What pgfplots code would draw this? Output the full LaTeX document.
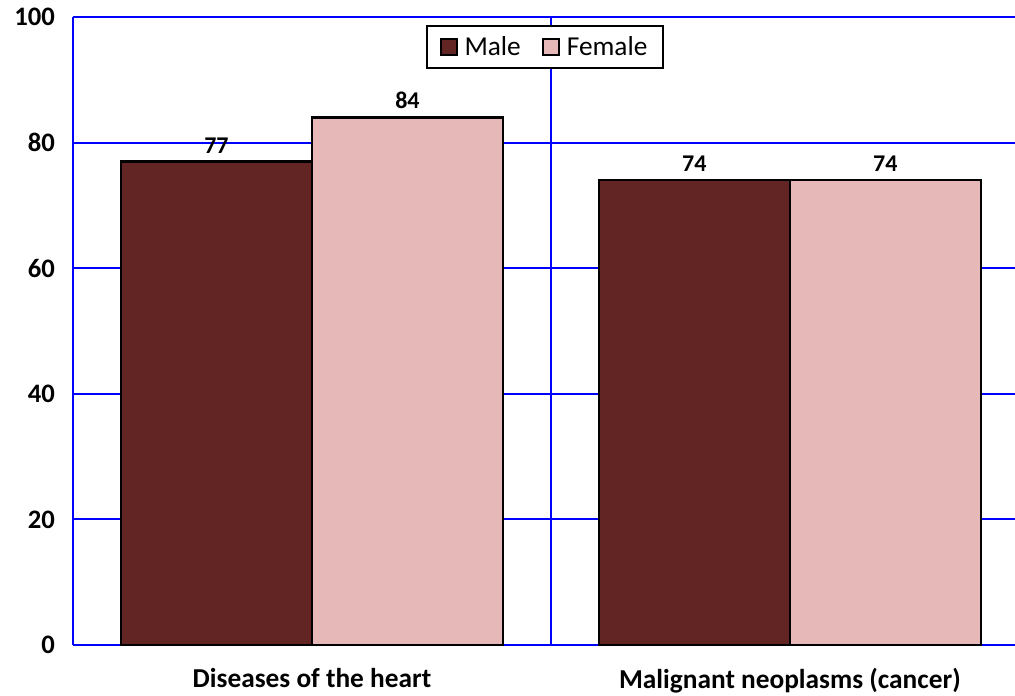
\documentclass[border=0pt]{standalone}
\usepackage{pgfplots}
\pgfplotsset{compat=1.18}
\usepackage{fontspec}
\setmainfont{Carlito}
\definecolor{male}{HTML}{632523}
\definecolor{female}{HTML}{E6B9B8}
\definecolor{gridblue}{HTML}{0000FF}
\begin{document}
\begin{tikzpicture}
\begin{axis}[
  name=ax,
  scale only axis,
  width=706.5pt, height=471pt,
  ybar=0pt, bar width=143.25pt,
  xmin=-0.5, xmax=1.471,
  ymin=0, ymax=100,
  xtick={0,1},
  xticklabels={Diseases of the heart, Malignant neoplasms (cancer)},
  minor xtick={0.5},
  xminorgrids=true,
  ytick={0,20,40,60,80,100},
  ymajorgrids=true,
  grid style={gridblue, line width=1.5pt},
  minor grid style={gridblue, line width=1.5pt},
  axis x line*=bottom, axis y line*=left,
  axis line style={gridblue, line width=1.5pt, -},
  major tick length=0pt, minor tick length=0pt,
  tick style={draw=none},
  /pgf/number format/assume math mode=true,
  yticklabel style={font=\fontsize{20}{22}\selectfont\bfseries, xshift=-10pt},
  xticklabel style={font=\fontsize{20.5}{23}\selectfont\bfseries, yshift=-14pt},
  nodes near coords,
  every node near coord/.append style={font=\fontsize{18}{20}\selectfont\bfseries, text=black, yshift=2pt},
  legend style={at={(0.501,0.987)}, anchor=north, draw=black, line width=1.5pt,
    font=\fontsize{20.5}{23}\selectfont, legend columns=2,
    /tikz/every odd column/.append style={column sep=3pt},
    /tikz/every even column/.append style={column sep=14pt},
    inner xsep=10pt, inner ysep=6pt},
  legend image code/.code={\draw[#1, draw=black, line width=1.5pt] (0pt,-6pt) rectangle (12pt,6pt);},
  clip=false,
]
\addplot[fill=male, draw=black, line width=1.8pt] coordinates {(0,77) (1,74)};
\addplot[fill=female, draw=black, line width=1.8pt] coordinates {(0,84) (1,74)};
\legend{Male, Female}
\end{axis}
\pgfresetboundingbox
\path[use as bounding box] ([xshift=-54.75pt, yshift=-38.25pt]ax.south west) rectangle ([yshift=12.75pt]ax.north east);
\end{tikzpicture}
\end{document}
